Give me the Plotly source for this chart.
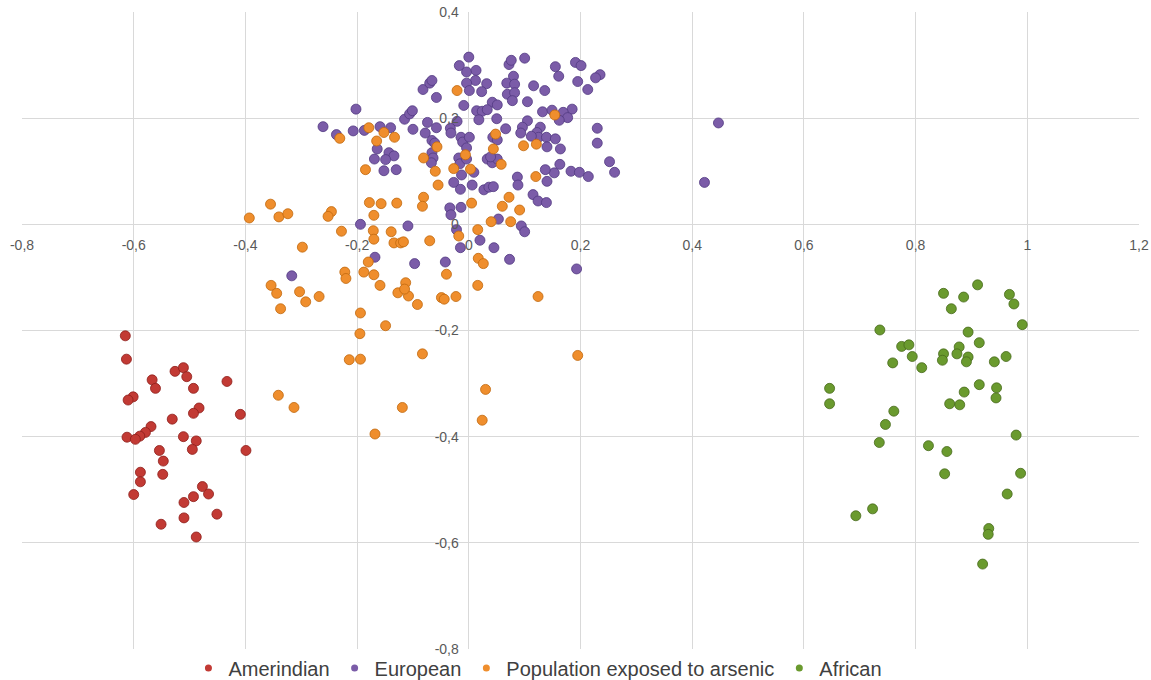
import plotly.graph_objects as go

# ---------------- data ----------------
series_names = ["Amerindian", "European", "Population exposed to arsenic", "African"]

amer_x = [-0.615, -0.613, -0.567, -0.561, -0.526, -0.511, -0.505, -0.493, -0.433, -0.601,
          -0.610, -0.483, -0.493, -0.409, -0.531, -0.569, -0.579, -0.589, -0.612, -0.597,
          -0.511, -0.488, -0.495, -0.554, -0.399, -0.547, -0.588, -0.548, -0.588, -0.600,
          -0.477, -0.466, -0.493, -0.510, -0.451, -0.510, -0.551, -0.488]
amer_y = [-0.210, -0.254, -0.293, -0.309, -0.277, -0.270, -0.287, -0.309, -0.296, -0.325,
          -0.331, -0.346, -0.356, -0.358, -0.367, -0.381, -0.392, -0.399, -0.401, -0.405,
          -0.400, -0.408, -0.424, -0.426, -0.426, -0.446, -0.467, -0.471, -0.485, -0.509,
          -0.494, -0.508, -0.513, -0.524, -0.546, -0.553, -0.565, -0.589]

euro_x = [-0.202, -0.261, -0.237, -0.207, -0.187, -0.159, -0.140, -0.164, -0.143, -0.134,
          -0.169, -0.149, -0.152, -0.130, -0.115, -0.106, -0.101, -0.100, -0.082, -0.058,
          -0.074, -0.078, -0.058, -0.066, -0.061, -0.066, -0.064, -0.067, -0.021, -0.033,
          -0.032, -0.014, -0.011, -0.004, -0.018, -0.016, -0.013, -0.027, -0.015, -0.009,
          -0.034, -0.014, -0.032, -0.194, -0.109, -0.168, -0.317, -0.022, -0.015, 0.020,
          -0.097, -0.042, 0.000, -0.017, -0.004, 0.013, 0.012, -0.004, 0.001, 0.032,
          0.023, -0.070, -0.066, 0.072, 0.076, 0.100, 0.080, 0.068, 0.082, 0.069,
          0.082, 0.078, 0.116, 0.136, 0.105, 0.042, 0.051, 0.014, 0.024, 0.033,
          0.018, 0.050, 0.066, 0.043, 0.051, 0.105, 0.096, 0.093, 0.128, 0.122,
          0.125, 0.132, 0.112, 0.139, 0.140, 0.001, -0.004, 0.033, 0.042, 0.051,
          0.039, 0.155, 0.191, 0.201, 0.161, 0.195, 0.235, 0.227, 0.213, 0.185,
          0.169, 0.177, 0.162, 0.149, 0.230, 0.230, 0.155, 0.164, 0.163, 0.153,
          0.183, 0.198, 0.214, 0.252, 0.261, 0.447, 0.422, 0.009, 0.006, 0.027,
          0.036, 0.044, 0.087, 0.088, 0.137, 0.140, 0.115, 0.124, 0.139, 0.053,
          0.094, 0.100, 0.045, 0.073, 0.193]
euro_y = [0.217, 0.184, 0.169, 0.176, 0.177, 0.184, 0.182, 0.142, 0.135, 0.129,
          0.123, 0.122, 0.101, 0.103, 0.198, 0.208, 0.214, 0.179, 0.254, 0.239,
          0.192, 0.172, 0.182, 0.158, 0.153, 0.135, 0.125, 0.116, 0.194, 0.181,
          0.172, 0.164, 0.155, 0.144, 0.125, 0.114, 0.093, 0.079, 0.066, 0.224,
          0.031, 0.032, 0.018, 0.000, -0.003, -0.062, -0.097, -0.010, -0.044, -0.030,
          -0.074, -0.071, 0.315, 0.299, 0.287, 0.290, 0.271, 0.266, 0.252, 0.265,
          0.250, 0.266, 0.271, 0.301, 0.309, 0.313, 0.279, 0.266, 0.264, 0.245,
          0.248, 0.233, 0.261, 0.252, 0.231, 0.230, 0.225, 0.214, 0.213, 0.216,
          0.197, 0.199, 0.180, 0.164, 0.159, 0.195, 0.183, 0.172, 0.183, 0.173,
          0.164, 0.212, 0.166, 0.164, 0.146, 0.164, 0.123, 0.123, 0.116, 0.123,
          0.127, 0.297, 0.305, 0.299, 0.279, 0.269, 0.282, 0.276, 0.254, 0.217,
          0.211, 0.201, 0.196, 0.215, 0.181, 0.153, 0.161, 0.142, 0.113, 0.097,
          0.100, 0.098, 0.090, 0.118, 0.098, 0.191, 0.079, 0.098, 0.074, 0.065,
          0.070, 0.071, 0.089, 0.074, 0.103, 0.081, 0.056, 0.044, 0.041, 0.010,
          -0.003, -0.014, -0.044, -0.066, -0.084]

arsenic_x = [-0.185, -0.355, -0.393, -0.340, -0.324, -0.246, -0.252, -0.228, -0.298, -0.178,
             -0.157, -0.129, -0.170, -0.171, -0.170, -0.139, -0.134, -0.122, -0.117, -0.180,
             -0.188, -0.170, -0.222, -0.220, -0.159, -0.354, -0.344, -0.303, -0.268, -0.292,
             -0.337, -0.194, -0.195, -0.149, -0.214, -0.194, -0.083, -0.341, -0.313, -0.119,
             -0.168, -0.127, -0.108, -0.113, -0.115, -0.092, -0.049, -0.044, -0.023, 0.030,
             0.024, 0.016, 0.124, 0.195, -0.021, -0.179, -0.152, -0.133, -0.165, -0.231,
             -0.057, -0.081, -0.006, -0.060, -0.027, 0.003, -0.055, -0.081, -0.083, 0.005,
             0.058, 0.120, 0.072, 0.060, 0.091, 0.040, 0.075, 0.016, -0.018, 0.017,
             0.026, 0.048, 0.044, 0.098, 0.121, 0.154, -0.070, -0.040]
arsenic_y = [0.103, 0.038, 0.012, 0.014, 0.020, 0.024, 0.015, -0.013, -0.043, 0.041,
             0.039, 0.040, 0.017, -0.012, -0.028, -0.014, -0.035, -0.035, -0.033, -0.071,
             -0.090, -0.095, -0.090, -0.102, -0.115, -0.115, -0.130, -0.127, -0.136, -0.146,
             -0.159, -0.167, -0.206, -0.191, -0.255, -0.254, -0.244, -0.322, -0.345, -0.345,
             -0.395, -0.129, -0.135, -0.110, -0.122, -0.151, -0.138, -0.141, -0.136, -0.311,
             -0.369, -0.115, -0.136, -0.247, 0.252, 0.182, 0.173, 0.164, 0.157, 0.162,
             0.146, 0.125, 0.131, 0.100, 0.105, 0.104, 0.074, 0.051, 0.034, 0.040,
             0.113, 0.090, 0.051, 0.034, 0.027, 0.005, 0.005, -0.010, -0.022, -0.064,
             -0.074, 0.170, 0.142, 0.148, 0.151, 0.206, -0.031, -0.094]

afr_x = [0.911, 0.850, 0.886, 0.968, 0.976, 0.864, 0.991, 0.736, 0.894, 0.914,
         0.775, 0.788, 0.878, 0.874, 0.850, 0.848, 0.894, 0.891, 0.794, 0.759,
         0.811, 0.941, 0.962, 0.646, 0.646, 0.914, 0.945, 0.944, 0.887, 0.861,
         0.879, 0.761, 0.746, 0.735, 0.823, 0.856, 0.980, 0.852, 0.988, 0.964,
         0.723, 0.693, 0.931, 0.930, 0.920]
afr_y = [-0.114, -0.130, -0.137, -0.132, -0.150, -0.159, -0.189, -0.199, -0.203, -0.223,
         -0.230, -0.227, -0.231, -0.244, -0.244, -0.256, -0.250, -0.259, -0.249, -0.261,
         -0.270, -0.259, -0.249, -0.309, -0.338, -0.302, -0.308, -0.327, -0.316, -0.338,
         -0.340, -0.352, -0.377, -0.411, -0.417, -0.428, -0.397, -0.470, -0.469, -0.508,
         -0.536, -0.549, -0.573, -0.584, -0.640]

x_tickvals = [-0.8, -0.6, -0.4, -0.2, 0, 0.2, 0.4, 0.6, 0.8, 1.0, 1.2]
x_ticktext = ["-0,8", "-0,6", "-0,4", "-0,2", "0", "0,2", "0,4", "0,6", "0,8", "1", "1,2"]
y_tickvals = [-0.8, -0.6, -0.4, -0.2, 0, 0.2, 0.4]
y_ticktext = ["-0,8", "-0,6", "-0,4", "-0,2", "0", "0,2", "0,4"]

# ---------------- styles ----------------
base_colors = ["#C23A34", "#7B5CA8", "#EF8E2D", "#6A9A2E"]
edge_colors = ["#8E1E1A", "#523A82", "#C0680E", "#47691C"]

xs = [amer_x, euro_x, arsenic_x, afr_x]
ys = [amer_y, euro_y, arsenic_y, afr_y]

fig = go.Figure()
for i in range(4):
    fig.add_trace(go.Scatter(
        x=xs[i], y=ys[i], mode="markers", name=series_names[i], showlegend=False,
        marker=dict(size=10, color=base_colors[i],
                    line=dict(width=0.8, color=edge_colors[i])),
        hoverinfo="x+y+name"))
for i in range(4):
    fig.add_trace(go.Scatter(
        x=[None], y=[None], mode="markers", name=series_names[i],
        marker=dict(size=7, color=base_colors[i])))

tick_font = dict(family="Liberation Sans, Arial, sans-serif", size=14, color="#595959")

fig.update_layout(
    width=1151, height=680,
    margin=dict(l=22, r=12, t=12, b=31, autoexpand=False),
    plot_bgcolor="white", paper_bgcolor="white",
    xaxis=dict(range=[-0.8, 1.2], tickvals=x_tickvals, ticktext=x_ticktext,
               showgrid=True, gridcolor="#D9D9D9", gridwidth=1,
               zeroline=False, showline=False, ticks="",
               anchor="free", position=2 / 3, ticklabelstandoff=11,
               tickfont=tick_font),
    yaxis=dict(range=[-0.8, 0.4], tickvals=y_tickvals, ticktext=y_ticktext,
               showgrid=True, gridcolor="#D9D9D9", gridwidth=1,
               zeroline=False, showline=False, ticks="",
               anchor="free", position=0.4, ticklabelstandoff=10,
               tickfont=tick_font),
    legend=dict(orientation="h", x=0.149, xanchor="left", y=-0.03, yanchor="middle",
                font=dict(family="Liberation Sans, Arial, sans-serif", size=20, color="#404040"),
                bgcolor="rgba(0,0,0,0)"),
    showlegend=True,
)

fig.write_html("out.html", config={"displayModeBar": False},
               post_script="document.body.style.margin='0';")
